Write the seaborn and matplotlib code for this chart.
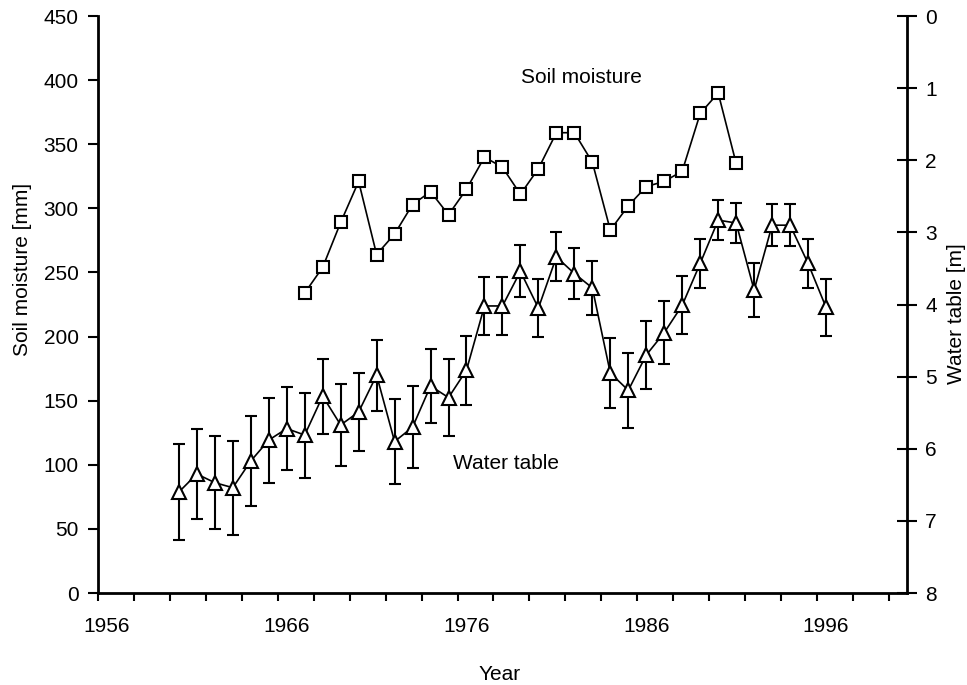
import numpy as np
import pandas as pd
import matplotlib
matplotlib.use("Agg")
import matplotlib.pyplot as plt
import seaborn as sns

# Soil moisture [mm], left axis
soil_years = list(range(1967, 1992))
soil_moisture = [234, 254, 289, 321, 264, 280, 303, 313, 295, 315, 340, 332, 311,
                 331, 359, 359, 336, 283, 302, 317, 321, 329, 374, 390, 335]

# Water table depth [m], right axis (inverted), with error bars
wt_years = list(range(1960, 1997))
wt_depth = [6.60, 6.35, 6.47, 6.54, 6.17, 5.88, 5.72, 5.81, 5.27, 5.67, 5.49, 4.98,
            5.90, 5.70, 5.13, 5.29, 4.91, 4.02, 4.02, 3.54, 4.05, 3.34, 3.57, 3.77,
            4.95, 5.19, 4.70, 4.39, 4.01, 3.43, 2.83, 2.87, 3.80, 2.90, 2.90, 3.43, 4.04]
wt_err = [0.66, 0.62, 0.64, 0.65, 0.62, 0.59, 0.57, 0.59, 0.52, 0.57, 0.54, 0.49,
          0.59, 0.57, 0.51, 0.53, 0.48, 0.40, 0.40, 0.36, 0.40, 0.34, 0.35, 0.37,
          0.49, 0.52, 0.47, 0.44, 0.40, 0.34, 0.28, 0.28, 0.37, 0.29, 0.29, 0.34, 0.40]

year_labels = [1956, 1966, 1976, 1986, 1996]

soil = pd.DataFrame({"Year": soil_years, "Soil moisture": soil_moisture})
wt = pd.DataFrame({"Year": wt_years, "Depth": wt_depth, "Err": wt_err})

sns.set_style("ticks")
plt.rcParams['font.family'] = ['Liberation Sans', 'DejaVu Sans']
plt.rcParams['font.size'] = 15
for key in ("text.color", "axes.labelcolor", "xtick.color", "ytick.color", "axes.edgecolor"):
    plt.rcParams[key] = "black"

fig = plt.figure(figsize=(9.67, 6.85), dpi=100)
ax = fig.add_axes([0.1013, 0.1343, 0.8366, 0.8423])
ax2 = ax.twinx()

# soil moisture line
sns.lineplot(data=soil, x="Year", y="Soil moisture", ax=ax, color="black",
             linewidth=1.2, marker="s", markersize=8, markerfacecolor="white",
             markeredgecolor="black", markeredgewidth=1.5, zorder=3)

# water table with error bars
ax2.errorbar(wt["Year"], wt["Depth"], yerr=wt["Err"], fmt="none", ecolor="black",
             elinewidth=1.5, capsize=4, capthick=1.5, zorder=2)
sns.lineplot(data=wt, x="Year", y="Depth", ax=ax2, color="black",
             linewidth=1.2, marker="^", markersize=10, markerfacecolor="white",
             markeredgecolor="black", markeredgewidth=1.5, zorder=3)

ax.set_xlim(1955.5, 2000.5)
ax.set_ylim(0, 450)
ax.set_yticks(np.arange(0, 451, 50))
ax2.set_ylim(8, 0)
ax2.set_yticks(range(0, 9))

ax.set_xticks(year_labels)
ax.set_xticklabels([str(y) for y in year_labels])
ax.set_xticks(np.arange(1955.5, 2000, 2), minor=True)
ax.tick_params(axis="x", which="major", length=0, pad=17, labelsize=15)
ax.tick_params(axis="x", which="minor", length=6, width=1.5, direction="out")
ax.tick_params(axis="y", length=7, width=1.5, direction="out", pad=7, labelsize=15)
ax2.tick_params(axis="y", length=14, width=1.5, direction="inout", pad=6, labelsize=15)

for a in (ax, ax2):
    a.spines["top"].set_visible(False)
    for s in a.spines.values():
        s.set_linewidth(2)
ax.spines["right"].set_visible(False)
ax2.spines["left"].set_visible(False)
ax2.spines["bottom"].set_visible(False)

ax.set_xlabel("Year", fontsize=15)
ax.xaxis.set_label_coords(0.496, -0.125)
ax.set_ylabel("Soil moisture [mm]", fontsize=15)
ax.yaxis.set_label_coords(-0.081, 0.56)
ax2.set_ylabel("Water table [m]", fontsize=15)
ax2.yaxis.set_label_coords(1.049, 0.484)

ax.text(0.598, 0.893, "Soil moisture", transform=ax.transAxes, ha="center",
        va="center", fontsize=15)
ax.text(0.505, 0.225, "Water table", transform=ax.transAxes, ha="center",
        va="center", fontsize=15)

fig.savefig("out.png", dpi=100)
